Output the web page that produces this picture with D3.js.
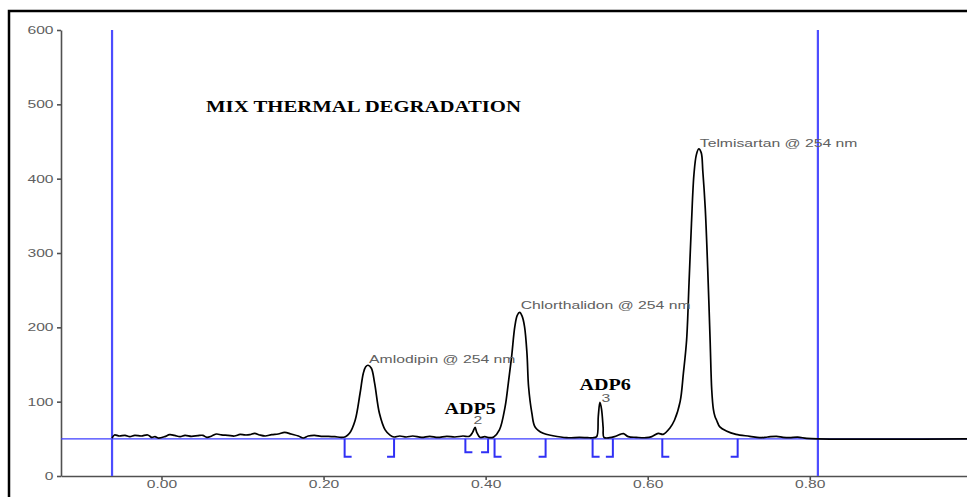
<!DOCTYPE html>
<html>
<head>
  <meta charset="UTF-8">
  <title>MIX THERMAL DEGRADATION</title>
  <script src="https://d3js.org/d3.v7.min.js"></script>
  <style>
    body { margin: 0; background: #fff; }
    .axis text, .peak-label { font-family: "Liberation Sans", Arial, sans-serif; font-size: 11px; fill: #606060; }
    .axis path, .axis line { stroke: #505050; stroke-width: 1.6; }
    .serif { font-family: "Liberation Serif", "Times New Roman", serif; font-weight: bold; font-size: 17px; fill: #000; }
  </style>
</head>
<body>
  <svg width="967" height="497"></svg>

  <script>
    // retention time (min) and detector response of the trace
    const retention = [
      -0.061, -0.058, -0.052, -0.045, -0.039, -0.033, -0.025, -0.017, -0.012, -0.008,
      -0.004, 0.004, 0.010, 0.016, 0.023, 0.029, 0.037, 0.045, 0.051, 0.056,
      0.062, 0.068, 0.074, 0.082, 0.090, 0.097, 0.103, 0.109, 0.115, 0.121,
      0.128, 0.136, 0.144, 0.152, 0.160, 0.169, 0.175, 0.181, 0.189, 0.197,
      0.206, 0.214, 0.222, 0.227,
      0.232, 0.239, 0.245, 0.249, 0.252, 0.255, 0.259, 0.263, 0.269, 0.276,
      0.282, 0.287,
      0.294, 0.302, 0.310, 0.321, 0.331, 0.341, 0.352, 0.362, 0.372, 0.380,
      0.384, 0.387, 0.389, 0.393, 0.399, 0.405, 0.410,
      0.417, 0.424, 0.428, 0.432, 0.436, 0.439, 0.442, 0.445, 0.448, 0.451,
      0.453, 0.457, 0.461, 0.471, 0.483, 0.500, 0.516, 0.526, 0.532,
      0.537, 0.539, 0.541, 0.543, 0.545, 0.546, 0.553, 0.559, 0.566, 0.570,
      0.576, 0.586, 0.598, 0.605, 0.613, 0.619,
      0.627, 0.633, 0.640, 0.644, 0.648, 0.651, 0.654, 0.657, 0.660, 0.663,
      0.666, 0.668, 0.671, 0.674, 0.677, 0.679, 0.681, 0.683, 0.685,
      0.689, 0.697, 0.709, 0.726, 0.738, 0.748, 0.759, 0.767, 0.775, 0.785,
      0.796, 0.810, 0.994
    ];
    const response = [
      51, 55.2, 53.8, 54.7, 52.9, 54.7, 53.8, 55.2, 52.0, 52.9,
      51.1, 52.9, 55.6, 54.7, 52.9, 54.7, 53.4, 54.3, 54.7, 52.0,
      53.8, 56.5, 55.2, 54.7, 53.8, 56.0, 55.2, 55.6, 57.4, 55.2,
      53.8, 55.6, 56.5, 58.7, 56.5, 53.8, 51.1, 53.8, 54.7, 53.4,
      53.4, 52.9, 52.0, 52.9,
      57.4, 75, 111, 138, 147, 149, 145, 125, 84, 62,
      55, 52.5,
      53.8, 52.5, 53.8, 52.0, 53.4, 52.0, 53.4, 52.5, 53.8, 53.4,
      58.8, 65.5, 58.8, 52.0, 52.9, 51.5, 52.5,
      61.9, 93, 125, 160, 201, 216, 220, 215, 201, 165,
      120, 85, 66, 57.4, 54.2, 51.5, 52.0, 51.5, 51.5,
      53, 80, 99, 90, 65, 52, 51.5, 53, 56, 57,
      53, 52, 51.5, 53, 57.4, 56,
      64, 75, 100, 138, 183, 260, 340, 405, 432, 440,
      435, 410, 360, 280, 183, 116, 90, 80, 75,
      66, 60.5, 56, 53.4, 51.5, 52.5, 53.4, 52, 51.5, 52.3,
      50.7, 50, 50
    ];

    const peakLabels = ["Amlodipin @ 254 nm", "2", "Chlorthalidon @ 254 nm", "3", "Telmisartan @ 254 nm"];
    const peakApexTime = [0.255, 0.387, 0.442, 0.541, 0.663];
    const peakApexValue = [149, 65.5, 220, 99, 440];
    const impurityLabels = ["", "ADP5", "", "ADP6", ""];
    const peakStart = [0.226, 0.375, 0.411, 0.532, 0.618];
    const peakEnd = [0.287, 0.403, 0.474, 0.557, 0.711];

    const baselineValue = 50;
    const cursorTimes = [-0.061, 0.81];
    const xTicks = [0, 0.2, 0.4, 0.6, 0.8];
    const yTicks = [0, 100, 200, 300, 400, 500, 600];
    const title = "MIX THERMAL DEGRADATION";

    const svg = d3.select("svg");

    const x = d3.scaleLinear().domain([-0.124, 0.994]).range([61, 967]);
    const y = d3.scaleLinear().domain([0, 600]).range([476, 30]);

    // the printout is horizontally stretched, so widen every text a bit
    function stretch(sel, k) {
      sel.each(function() {
        const w = this.getComputedTextLength();
        d3.select(this).attr("textLength", w * k).attr("lengthAdjust", "spacingAndGlyphs");
      });
    }

    // frame (only left and top edges are in view)
    svg.append("path")
      .attr("d", "M9,497V11H967")
      .attr("fill", "none")
      .attr("stroke", "#000")
      .attr("stroke-width", 2.5);

    svg.append("g")
      .attr("class", "axis")
      .attr("transform", `translate(0,${y(0)})`)
      .call(d3.axisBottom(x).tickValues(xTicks).tickFormat(d3.format(".2f"))
        .tickSize(4).tickSizeOuter(0).tickPadding(0.5));

    svg.append("g")
      .attr("class", "axis")
      .attr("transform", `translate(${x.range()[0]},0)`)
      .call(d3.axisLeft(y).tickValues(yTicks).tickSize(4).tickSizeOuter(0).tickPadding(3.5));

    svg.selectAll(".axis text").call(stretch, 1.42);

    // baseline
    svg.append("line")
      .attr("x1", x.range()[0]).attr("x2", x.range()[1])
      .attr("y1", y(baselineValue)).attr("y2", y(baselineValue))
      .attr("stroke", "#3c3cff")
      .attr("stroke-width", 1.3);

    // cursor lines
    svg.selectAll(".cursor")
      .data(cursorTimes)
      .enter()
      .append("line")
        .attr("class", "cursor")
        .attr("x1", d => x(d)).attr("x2", d => x(d))
        .attr("y1", y(600)).attr("y2", y(0))
        .attr("stroke", "#4d4dff")
        .attr("stroke-width", 2.2);

    // integration marks
    const depth = [18, 13.5, 18, 18, 18];
    const foot = 7;
    const marks = svg.append("g")
      .attr("fill", "none")
      .attr("stroke", "#3030f5")
      .attr("stroke-width", 2);
    peakStart.forEach((s, i) => {
      const y0 = y(baselineValue), y1 = y0 + depth[i];
      marks.append("path").attr("d", `M${x(s)},${y0}V${y1}h${foot}`);
      marks.append("path").attr("d", `M${x(peakEnd[i])},${y0}V${y1}h${-foot}`);
    });

    // trace
    const trace = d3.zip(retention, response);
    svg.append("path")
      .datum(trace)
      .attr("fill", "none")
      .attr("stroke", "#000")
      .attr("stroke-width", 1.7)
      .attr("stroke-linejoin", "round")
      .attr("d", d3.line()
        .x(d => x(d[0]))
        .y(d => y(d[1]))
        .curve(d3.curveCatmullRom.alpha(0.5)));

    // peak labels
    const labelDx = [1, -1.7, 1, 1.7, 1];
    const labelDy = [-2, -3.5, -3.2, -0.2, -2.2];
    svg.selectAll(".peak-label")
      .data(peakLabels)
      .enter()
      .append("text")
        .attr("class", "peak-label")
        .attr("x", (d, i) => x(peakApexTime[i]) + labelDx[i])
        .attr("y", (d, i) => y(peakApexValue[i]) + labelDy[i])
        .text(d => d)
        .call(stretch, 1.43);

    const impDx = [0, -4.9, 0, 5.3, 0];
    const impDy = [0, -13, 0, -12, 0];
    impurityLabels.forEach((t, i) => {
      if (!t) return;
      svg.append("text")
        .attr("class", "serif")
        .attr("text-anchor", "middle")
        .attr("x", x(peakApexTime[i]) + impDx[i])
        .attr("y", y(peakApexValue[i]) + impDy[i])
        .text(t)
        .call(stretch, 1.18);
    });

    svg.append("text")
      .attr("class", "serif")
      .attr("x", 206)
      .attr("y", 112)
      .text(title)
      .call(stretch, 1.22);
  </script>
</body>
</html>
